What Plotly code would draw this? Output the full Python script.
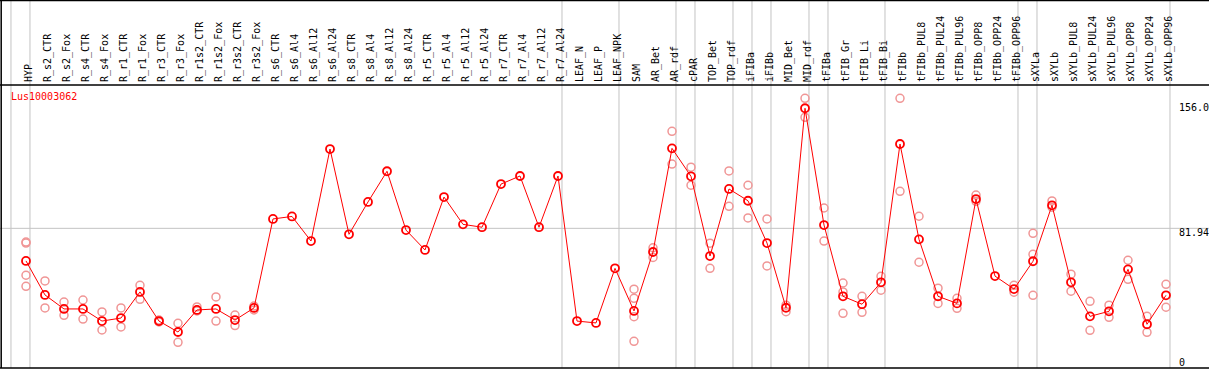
import plotly.graph_objects as go

categories = ["HYP", "R_s2_CTR", "R_s2_Fox", "R_s4_CTR", "R_s4_Fox", "R_r1_CTR", "R_r1_Fox",
              "R_r3_CTR", "R_r3_Fox", "R_r1s2_CTR", "R_r1s2_Fox", "R_r3s2_CTR", "R_r3s2_Fox",
              "R_s6_CTR", "R_s6_Al4", "R_s6_Al12", "R_s6_Al24", "R_s8_CTR", "R_s8_Al4", "R_s8_Al12",
              "R_s8_Al24", "R_r5_CTR", "R_r5_Al4", "R_r5_Al12", "R_r5_Al24", "R_r7_CTR", "R_r7_Al4",
              "R_r7_Al12", "R_r7_Al24", "LEAF_N", "LEAF_P", "LEAF_NPK", "SAM", "AR_Bet", "AR_rdf",
              "cPAR", "TOP_Bet", "TOP_rdf", "iFIBa", "iFIBb", "MID_Bet", "MID_rdf", "tFIBa",
              "tFIB_Gr", "tFIB_Li", "tFIB_Bi", "tFIBb", "tFIBb_PUL8", "tFIBb_PUL24", "tFIBb_PUL96",
              "tFIBb_OPP8", "tFIBb_OPP24", "tFIBb_OPP96", "sXYLa", "sXYLb", "sXYLb_PUL8",
              "sXYLb_PUL24", "sXYLb_PUL96", "sXYLb_OPP8", "sXYLb_OPP24", "sXYLb_OPP96"]

means = [62.6, 42.4, 34.1, 34.1, 26.9, 28.7, 44.2, 26.9, 20.4, 33.5, 34.1, 27.5, 34.7,
         87.5, 89.0, 74.4, 129.0, 78.4, 97.6, 115.8, 80.9, 69.1, 100.5, 84.3, 82.6, 108.2, 113.0,
         82.6, 113.0, 26.9, 25.8, 58.2, 32.9, 67.9, 129.4, 112.8, 65.5, 105.3, 98.3, 73.2, 34.8,
         153.2, 83.9, 41.6, 36.9, 49.9, 132.0, 75.4, 41.6, 37.4, 99.3, 53.6, 45.9, 62.4, 95.6,
         49.9, 29.7, 32.7, 57.6, 25.0, 42.2]

replicates = [[73.8, 73.2, 54.1, 47.5], [50.7, 34.7], [38.2, 30.3], [39.4, 28.1], [32.3, 21.6],
              [34.7, 23.4], [48.1, 39.8], [27.5, 26.4], [25.6, 14.3], [35.3, 32.9], [41.2, 26.9],
              [30.5, 24.2], [35.8, 33.5],
              [], [], [], [], [], [], [], [], [], [], [], [], [], [], [], [],
              [], [], [],
              [45.8, 40.4, 29.5, 14.9], [70.4, 64.7], [139.5, 120.1], [118.2, 107.5], [73.1, 58.2],
              [116.0, 95.0], [107.5, 88.1], [87.5, 59.6], [36.3, 32.5], [159.1, 147.8],
              [94.0, 74.4], [49.5, 44.2, 31.5], [41.6, 32.1], [53.5, 45.2], [159.1, 103.9],
              [89.1, 61.8], [46.4, 37.4], [40.4, 34.5], [101.7, 98.0], [], [48.1, 44.0],
              [79.0, 66.5, 42.2], [98.2, 94.5], [54.7, 44.6], [38.6, 21.4], [36.3, 29.1],
              [63.0, 51.7], [29.7, 20.2], [48.7, 35.1]]

group_ends = [-1, 0, 28, 31, 34, 35, 37, 38, 39, 41, 42, 45, 52, 53, 60]
y_tick_vals = [156.0, 81.94, 0]
y_tick_text = ["156.0", "81.94", "0"]
y_tick_shift = [-4, -4, 4]
gene = "Lus10003062"

W, H = 1209, 370
TOP, BOT = 85, 2
x_range = [-1.368, 62.263]
y_range = [-0.95, 167.0]
FONT = "DejaVu Sans Mono"


def xpaper(v):
    return (v - x_range[0]) / (x_range[1] - x_range[0])


def ypaper(py):
    return (H - BOT - py) / (H - TOP - BOT)


xs = list(range(len(categories)))
rx, ry = [], []
for i, reps in enumerate(replicates):
    for r in reps:
        rx.append(i)
        ry.append(r)

fig = go.Figure()
fig.add_trace(go.Scatter(x=rx, y=ry, mode="markers",
                         marker=dict(symbol="circle-open", size=8, color="rgb(240,150,150)",
                                     line=dict(width=1.5, color="rgb(240,150,150)")),
                         hoverinfo="skip", showlegend=False))
fig.add_trace(go.Scatter(x=xs, y=means, mode="lines+markers",
                         line=dict(color="red", width=1),
                         marker=dict(symbol="circle-open", size=8, color="red",
                                     line=dict(width=1.8, color="red")),
                         showlegend=False))

shapes = []
# separators between groups (full height)
for k in group_ends:
    px = xpaper(k + 0.21)
    shapes.append(dict(type="line", xref="paper", yref="paper", x0=px, x1=px,
                       y0=0, y1=ypaper(0), line=dict(color="rgb(195,195,195)", width=1),
                       layer="below"))
# horizontal mean line
shapes.append(dict(type="line", xref="paper", yref="y", x0=0, x1=1, y0=81.94, y1=81.94,
                   line=dict(color="rgb(195,195,195)", width=1), layer="below"))
# frame lines
shapes.append(dict(type="line", xref="paper", yref="paper", x0=0, x1=1, y0=ypaper(0.5), y1=ypaper(0.5),
                   line=dict(color="black", width=1.5)))
shapes.append(dict(type="line", xref="paper", yref="paper", x0=0, x1=1, y0=1, y1=1,
                   line=dict(color="black", width=1.5)))
shapes.append(dict(type="line", xref="paper", yref="paper", x0=0, x1=1, y0=0, y1=0,
                   line=dict(color="black", width=1.5)))
shapes.append(dict(type="line", xref="paper", yref="paper", x0=1.2 / W, x1=1.2 / W, y0=0, y1=ypaper(0),
                   line=dict(color="black", width=1.5)))

annotations = [dict(text=gene, xref="paper", yref="paper", x=9 / W, y=ypaper(96.7),
                    xanchor="left", yanchor="middle", showarrow=False,
                    font=dict(family=FONT, size=10, color="red"))]
for v, t, s in zip(y_tick_vals, y_tick_text, y_tick_shift):
    annotations.append(dict(text=t, xref="paper", yref="y", x=1177 / W, y=v, yshift=s,
                            xanchor="left", yanchor="middle", showarrow=False,
                            font=dict(family=FONT, size=10, color="black")))

fig.update_layout(
    width=W, height=H,
    margin=dict(l=0, r=0, t=TOP, b=BOT, pad=0),
    paper_bgcolor="white", plot_bgcolor="white",
    shapes=shapes, annotations=annotations,
    xaxis=dict(range=x_range, side="top", tickmode="array", tickvals=xs, ticktext=categories,
               tickangle=-90, tickfont=dict(family=FONT, size=10, color="black"),
               showgrid=False, zeroline=False, showline=False, ticks="",
               ticklabelstandoff=2, ticklabelshift=3),
    yaxis=dict(range=y_range, showticklabels=False, showgrid=False, zeroline=False,
               showline=False, ticks=""),
)

fig.write_html("out.html", config={"displayModeBar": False},
               post_script="document.body.style.margin='0px';document.body.style.padding='0px';"
                           "document.body.style.overflow='hidden';")
